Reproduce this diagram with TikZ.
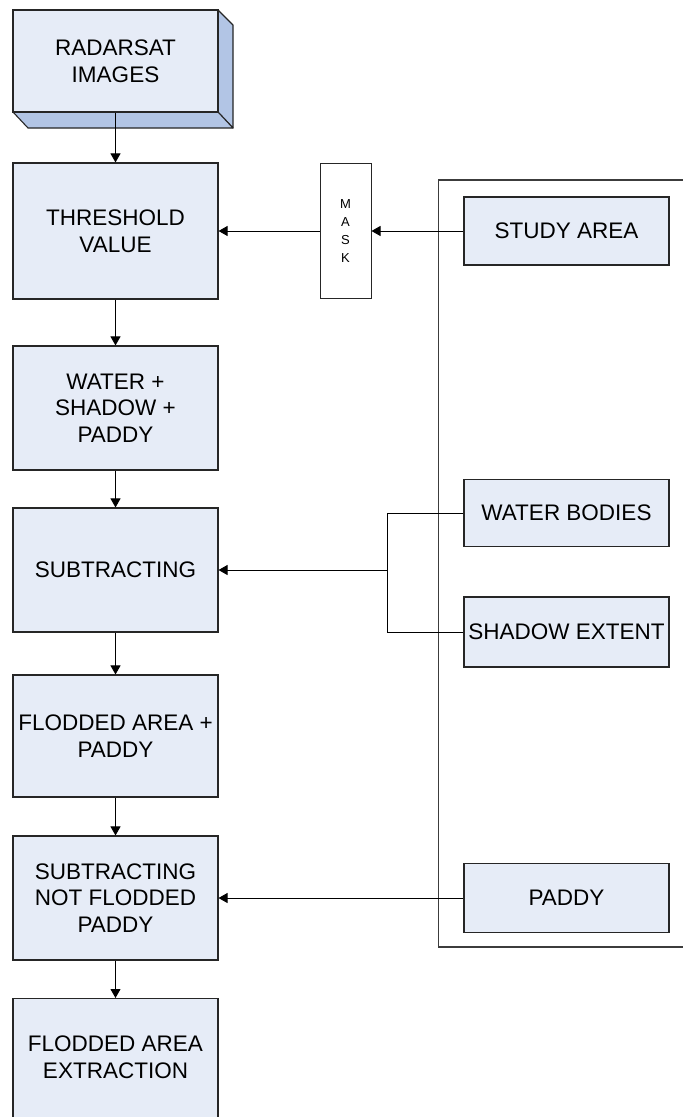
\documentclass[tikz,border=0pt]{standalone}
\usepackage{fontspec}
\setmainfont{Liberation Sans}
\usetikzlibrary{arrows.meta}
\definecolor{boxfill}{RGB}{230,236,247}
\definecolor{sidefill}{RGB}{178,197,229}
\definecolor{framegray}{RGB}{60,60,60}
\tikzset{
  flowbox/.style={draw=black!85, line width=1.1pt, fill=boxfill, inner sep=0pt,
    align=center, font=\fontsize{22.5}{26.7}\selectfont},
  bigbox/.style={flowbox, minimum width=205pt},
  smallbox/.style={flowbox, minimum width=205pt, minimum height=68pt},
  arr/.style={line width=1pt, -{Triangle[length=9pt,width=10pt]}},
  conn/.style={line width=1pt},
}
\begin{document}
\begin{tikzpicture}[x=1pt,y=-1pt]
\useasboundingbox (0,0) rectangle (683,1117);
\clip (0,0) rectangle (683,1117);
% 3D radarsat box
\filldraw[fill=sidefill, draw=black!85, line width=1.1pt, line join=round]
  (218,10) -- (233,25) -- (233,128) -- (218,112) -- cycle;
\filldraw[fill=sidefill, draw=black!85, line width=1.1pt, line join=round]
  (13,112) -- (218,112) -- (233,128) -- (28,128) -- cycle;
\node[bigbox, minimum height=102pt] (rad) at (115.5,61) {RADARSAT\\IMAGES};
% left column
\node[bigbox, minimum height=136pt] (thr) at (115.5,231) {THRESHOLD\\VALUE};
\node[bigbox, minimum height=124pt] (wsp) at (115.5,408) {WATER +\\SHADOW +\\PADDY};
\node[bigbox, minimum height=124pt] (sub) at (115.5,570) {SUBTRACTING};
\node[bigbox, minimum height=122pt] (fap) at (115.5,736) {FLODDED AREA +\\PADDY};
\node[bigbox, minimum height=124pt] (snf) at (115.5,898) {SUBTRACTING\\NOT FLODDED\\PADDY};
\node[bigbox, minimum height=140pt, anchor=north] (fae) at (115.5,998) {};
\node[font=\fontsize{22.5}{26.7}\selectfont, align=center] (faet) at (115.5,1057) {FLODDED AREA\\EXTRACTION};
% frame
\draw[framegray, line width=1.1pt] (690,180) -- (438.5,180) -- (438.5,947) -- (690,947);
% mask
\node[draw=black!85, line width=1pt, fill=white, minimum width=51pt, minimum height=135pt,
  inner sep=0pt, align=center, font=\fontsize{13}{18.3}\selectfont] (mask) at (345.5,231) {M\\A\\S\\K};
% right column
\node[smallbox] (study) at (566.5,231) {STUDY AREA};
\node[smallbox, minimum height=67pt] (wb) at (566.5,513) {WATER BODIES};
\node[smallbox, minimum height=70pt] (se) at (566.5,632) {SHADOW EXTENT};
\node[smallbox, minimum height=69pt] (pad) at (566.5,898) {PADDY};
\coordinate (j) at (387,570);
% connectors
\draw[arr] (rad.south) -- (thr.north);
\draw[arr] (thr.south) -- (wsp.north);
\draw[arr] (wsp.south) -- (sub.north);
\draw[arr] (sub.south) -- (fap.north);
\draw[arr] (fap.south) -- (snf.north);
\draw[arr] (snf.south) -- (fae.north);
\draw[arr] (study.west) -- (mask.east);
\draw[arr] (mask.west) -- (thr.east);
\draw[conn] (wb.west) -| (j);
\draw[conn] (se.west) -| (j);
\draw[arr] (j) -- (sub.east);
\draw[arr] (pad.west) -- (snf.east);
\end{tikzpicture}
\end{document}
